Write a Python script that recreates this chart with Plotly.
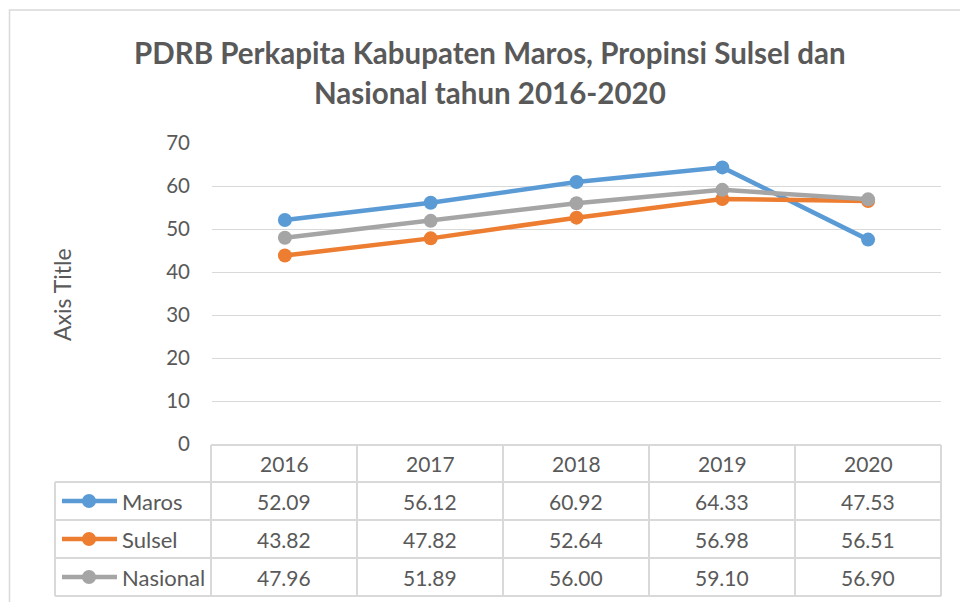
import plotly.graph_objects as go

categories = ["2016", "2017", "2018", "2019", "2020"]
series_names = ["Maros", "Sulsel", "Nasional"]
maros = [52.09, 56.12, 60.92, 64.33, 47.53]
sulsel = [43.82, 47.82, 52.64, 56.98, 56.51]
nasional = [47.96, 51.89, 56.00, 59.10, 56.90]
y_ticks = [0, 10, 20, 30, 40, 50, 60, 70]
title_lines = ["PDRB Perkapita Kabupaten Maros, Propinsi Sulsel dan", "Nasional tahun 2016-2020"]
axis_title = "Axis Title"

W, H = 960, 602
colors = ["#5B9BD5", "#ED7D31", "#A5A5A5"]
text_color = "#595959"
grid_color = "#D9D9D9"
FONT = "Lato"

def px(x):
    return x / W

def py(y):
    return 1 - y / H

# plot area geometry (pixels)
PL, PR, PT, PB = 212, 941, 143, 444

fig = go.Figure()
all_series = [maros, sulsel, nasional]
for name, vals, c in zip(series_names, all_series, colors):
    fig.add_trace(go.Scatter(
        x=list(range(len(categories))), y=vals, name=name, mode="lines+markers",
        line=dict(color=c, width=4.5), marker=dict(color=c, size=14),
        showlegend=False, hoverinfo="skip",
    ))

fig.update_layout(
    template="none",
    width=W, height=H, autosize=False, showlegend=False,
    margin=dict(l=0, r=0, t=0, b=0, pad=0, autoexpand=False),
    paper_bgcolor="white", plot_bgcolor="white",
    font=dict(family=FONT, color=text_color),
    xaxis=dict(domain=[px(PL), px(PR)], range=[-0.5, len(categories) - 0.5], automargin=False,
               showticklabels=False, showgrid=False, zeroline=False, showline=False, ticks=""),
    yaxis=dict(domain=[py(PB), py(PT)], range=[0, 70], tickvals=y_ticks, automargin=False, ticks="",
               showgrid=True, gridcolor=grid_color, gridwidth=1.3, zeroline=False, showline=False,
               tickfont=dict(family=FONT, size=20.5, color=text_color), ticklabelstandoff=21),
)

shapes = []
annotations = []

# outer chart border
shapes.append(dict(type="rect", xref="paper", yref="paper", x0=px(9.5), x1=px(990), y0=py(640), y1=py(10),
                   line=dict(color=grid_color, width=1.5), fillcolor="rgba(0,0,0,0)", layer="below"))

# title
for i, t in enumerate(title_lines):
    annotations.append(dict(text="<b>%s</b>" % t, xref="paper", yref="paper", x=px(490), y=py(52 + 40 * i),
                            xanchor="center", yanchor="middle", showarrow=False,
                            font=dict(family=FONT, size=29.5, color=text_color)))

# axis title
annotations.append(dict(text=axis_title, xref="paper", yref="paper", x=px(62), y=py(295), textangle=-90,
                        xanchor="center", yanchor="middle", showarrow=False,
                        font=dict(family=FONT, size=23, color=text_color)))

# data table
col_edges = [211, 357, 503, 649, 795, 941]
row_edges = [445, 482, 520, 558, 596]
leg_left = 55
lc = dict(color=grid_color, width=2)
shapes.append(dict(type="line", xref="paper", yref="paper", x0=px(col_edges[0]), x1=px(col_edges[-1]),
                   y0=py(row_edges[0]), y1=py(row_edges[0]), line=lc))
for ry in row_edges[1:]:
    shapes.append(dict(type="line", xref="paper", yref="paper", x0=px(leg_left), x1=px(col_edges[-1]),
                       y0=py(ry), y1=py(ry), line=lc))
for cx in col_edges:
    shapes.append(dict(type="line", xref="paper", yref="paper", x0=px(cx), x1=px(cx),
                       y0=py(row_edges[0]), y1=py(row_edges[-1]), line=lc))
shapes.append(dict(type="line", xref="paper", yref="paper", x0=px(leg_left), x1=px(leg_left),
                   y0=py(row_edges[1]), y1=py(row_edges[-1]), line=lc))

num_font = dict(family=FONT, size=21, color=text_color)
label_font = dict(family=FONT, size=22, color=text_color)
for j, cat in enumerate(categories):
    cx = (col_edges[j] + col_edges[j + 1]) / 2
    annotations.append(dict(text=cat, xref="paper", yref="paper", x=px(cx), y=py((row_edges[0] + row_edges[1]) / 2),
                            xanchor="center", yanchor="middle", showarrow=False, font=num_font))
for i, (name, vals, c) in enumerate(zip(series_names, all_series, colors)):
    ry = (row_edges[i + 1] + row_edges[i + 2]) / 2
    for j, v in enumerate(vals):
        cx = (col_edges[j] + col_edges[j + 1]) / 2
        annotations.append(dict(text="%.2f" % v, xref="paper", yref="paper", x=px(cx), y=py(ry),
                                xanchor="center", yanchor="middle", showarrow=False, font=num_font))
    shapes.append(dict(type="line", xref="paper", yref="paper", x0=px(62), x1=px(117), y0=py(ry), y1=py(ry),
                       line=dict(color=c, width=4.5)))
    shapes.append(dict(type="circle", xref="paper", yref="paper", x0=px(82), x1=px(96), y0=py(ry - 7), y1=py(ry + 7),
                       line=dict(color=c, width=0), fillcolor=c))
    annotations.append(dict(text=name, xref="paper", yref="paper", x=px(120), y=py(ry),
                            xanchor="left", yanchor="middle", showarrow=False, font=label_font))

fig.update_layout(shapes=shapes, annotations=annotations)
fig.write_html("out.html", config={"displayModeBar": False},
               post_script="document.body.style.margin='0';document.body.style.overflow='hidden';")
